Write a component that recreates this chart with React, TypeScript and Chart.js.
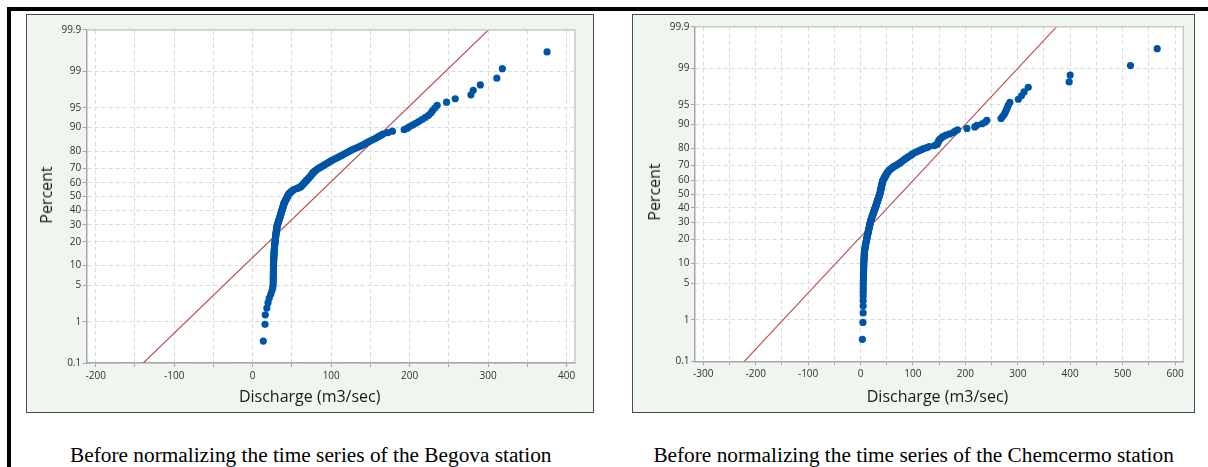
import React, { useEffect, useRef } from 'react';
import { Chart, registerables } from 'chart.js';

Chart.register(...registerables);

// ---------- data ----------
const percentTicks = [0.1, 1, 5, 10, 20, 30, 40, 50, 60, 70, 80, 90, 95, 99, 99.9];
const percentTickLabels = ['0.1', '1', '5', '10', '20', '30', '40', '50', '60', '70', '80', '90', '95', '99', '99.9'];

const begovaXTicks = [-200, -150, -100, -50, 0, 50, 100, 150, 200, 250, 300, 350, 400];
const chemcermoXTicks = [-300, -250, -200, -150, -100, -50, 0, 50, 100, 150, 200, 250, 300, 350, 400, 450, 500, 550, 600];

const begovaXRange = [-211.5, 410.6];
const chemcermoXRange = [-315.8, 615.8];

// fitted normal line: discharge at 0.1 % and 99.9 %
const fitPercent = [0.1, 99.9];
const begovaFitX = [-139.4, 300.1];
const chemcermoFitX = [-221.7, 374.3];

// monthly discharge (m3/sec), sorted
const begovaDischarge = [
  13.5, 15.7, 16, 18, 19.5, 21, 23, 24.5, 25.5, 26,
  26.1, 26.1, 26.2, 26.2, 26.3, 26.3, 26.4, 26.4, 26.5, 26.5,
  26.6, 26.6, 26.7, 26.8, 26.9, 27.0, 27.1, 27.2, 27.3, 27.4,
  27.5, 27.6, 27.7, 27.8, 27.9, 28.0, 28.2, 28.4, 28.5, 28.6,
  28.8, 28.9, 29.0, 29.2, 29.3, 29.5, 29.6, 29.8, 29.9, 30.1,
  30.2, 30.4, 30.5, 30.7, 30.8, 31.0, 31.3, 31.6, 31.9, 32.2,
  32.5, 32.8, 33.2, 33.5, 33.8, 34.1, 34.4, 34.7, 35.0, 35.3,
  35.6, 35.9, 36.2, 36.4, 36.7, 37.0, 37.3, 37.5, 37.8, 38.1,
  38.4, 38.7, 38.9, 39.2, 39.5, 39.7, 40.0, 40.5, 40.9, 41.4,
  41.8, 42.3, 42.8, 43.2, 43.7, 44.2, 44.6, 45.1, 45.6, 46.0,
  46.5, 47.6, 48.7, 49.8, 50.9, 52, 54.2, 56.5, 58.7, 61,
  61.8, 62.6, 63.4, 64.3, 65.1, 66, 66.8, 67.7, 68.5, 69.4,
  70.2, 71.1, 71.9, 72.8, 73.6, 74.4, 75.2, 76, 76.5, 77.5,
  78.8, 80, 81.3, 82.6, 84, 85.8, 87.6, 89.4, 91.2, 93,
  94.8, 96.6, 98.4, 100.2, 102.3, 104.6, 106.9, 109.2, 111.5, 113.8,
  116, 118.3, 120.6, 122.9, 125, 128, 131, 134, 137, 140,
  143, 145, 148, 151, 154, 157, 160, 163, 166, 172,
  178, 193, 197, 200, 204, 208, 212, 216, 220, 224,
  227, 229, 232, 235, 247, 258, 278, 281, 290, 311,
  318, 375,
];

const chemcermoDischarge = [
  3.5, 4.5, 5.0, 5.0, 5.0, 5.1, 5.1, 5.2, 5.2, 5.3,
  5.4, 5.5, 5.6, 5.7, 5.8, 5.9, 6.0, 6.1, 6.3, 6.4,
  6.5, 6.7, 6.8, 7.0, 7.1, 7.3, 7.4, 7.6, 7.8, 8.2,
  8.6, 9.0, 9.4, 9.7, 10.1, 10.5, 10.9, 11.3, 11.7, 12.1,
  12.4, 12.8, 13.2, 13.6, 14.0, 14.4, 14.8, 15.1, 15.5, 15.9,
  16.2, 16.6, 17.0, 17.3, 17.7, 18.1, 18.4, 18.8, 19.2, 19.6,
  20.0, 20.5, 21.0, 21.5, 22.0, 22.5, 23.0, 23.5, 24.0, 24.5,
  25.0, 25.5, 26.0, 26.5, 27.0, 27.5, 28.0, 28.5, 29.0, 29.4,
  29.9, 30.3, 30.8, 31.2, 31.7, 32.1, 32.6, 33.0, 33.5, 33.9,
  34.4, 34.8, 35.3, 35.7, 36.2, 36.6, 37.0, 37.3, 37.6, 37.9,
  38.2, 38.5, 38.8, 39.1, 39.4, 39.7, 40.0, 40.3, 40.6, 40.9,
  41.2, 41.5, 41.8, 42.1, 42.5, 43.0, 43.8, 44.6, 45.4, 46.2,
  47.0, 47.8, 48.6, 49.4, 50.3, 51.2, 52.2, 53.3, 54.5, 56,
  58, 60, 62, 64, 67, 70, 72, 75, 77, 79,
  81, 83, 85, 88, 90, 93, 96, 98, 100, 104,
  108, 112, 116, 120, 126, 131, 141, 146, 147, 148,
  149, 150, 152, 155, 158, 163, 170, 177, 180, 185,
  203, 218, 222, 232, 238, 241, 268, 271, 274, 276,
  278, 280, 282, 285, 301, 307, 312, 320, 398, 400,
  515, 566,
];

const captionBegova = 'Before normalizing the time series of the Begova station';
const captionChemcermo = 'Before normalizing the time series of the Chemcermo station';

// ---------- helpers ----------
function probit(p: number): number {
  const a = [-3.969683028665376e1, 2.209460984245205e2, -2.759285104469687e2, 1.38357751867269e2, -3.066479806614716e1, 2.506628277459239];
  const b = [-5.447609879822406e1, 1.615858368580409e2, -1.556989798598866e2, 6.680131188771972e1, -1.328068155288572e1];
  const c = [-7.784894002430293e-3, -3.223964580411365e-1, -2.400758277161838, -2.549732539343734, 4.374664141464968, 2.938163982698783];
  const d = [7.784695709041462e-3, 3.224671290700398e-1, 2.445134137142996, 3.754408661907416];
  const pl = 0.02425;
  if (p < pl) {
    const q = Math.sqrt(-2 * Math.log(p));
    return (((((c[0] * q + c[1]) * q + c[2]) * q + c[3]) * q + c[4]) * q + c[5]) / ((((d[0] * q + d[1]) * q + d[2]) * q + d[3]) * q + 1);
  }
  if (p <= 1 - pl) {
    const q = p - 0.5;
    const r = q * q;
    return ((((((a[0] * r + a[1]) * r + a[2]) * r + a[3]) * r + a[4]) * r + a[5]) * q) / (((((b[0] * r + b[1]) * r + b[2]) * r + b[3]) * r + b[4]) * r + 1);
  }
  const q = Math.sqrt(-2 * Math.log(1 - p));
  return -(((((c[0] * q + c[1]) * q + c[2]) * q + c[3]) * q + c[4]) * q + c[5]) / ((((d[0] * q + d[1]) * q + d[2]) * q + d[3]) * q + 1);
}

const plotFrame = {
  id: 'plotFrame',
  beforeDraw(chart: any) {
    const { ctx, chartArea: a } = chart;
    ctx.save();
    ctx.fillStyle = '#ffffff';
    ctx.fillRect(a.left, a.top, a.right - a.left, a.bottom - a.top);
    ctx.restore();
  },
  afterDraw(chart: any) {
    const { ctx, chartArea: a } = chart;
    ctx.save();
    ctx.strokeStyle = '#c9c9c9';
    ctx.lineWidth = 1.5;
    ctx.beginPath();
    ctx.moveTo(a.left, a.top);
    ctx.lineTo(a.right, a.top);
    ctx.lineTo(a.right, a.bottom);
    ctx.stroke();
    ctx.restore();
  },
};

const TICK_FONT = { family: "'Open Sans', 'Noto Sans', sans-serif", size: 10 };
const TICK_COLOR = '#303030';

type PlotProps = {
  values: number[];
  xRange: number[];
  xTicks: number[];
  fitX: number[];
  left: number;
  top: number;
  width: number;
  height: number;
  padTop: number;
  padRight: number;
  yAxisWidth: number;
  xAxisHeight: number;
};

function ProbabilityPlot(props: PlotProps) {
  const ref = useRef<HTMLCanvasElement>(null);
  useEffect(() => {
    const { values, xRange, xTicks, fitX, padTop, padRight, yAxisWidth, xAxisHeight } = props;
    const sorted = [...values].sort((u, v) => u - v);
    const n = sorted.length;
    const points = sorted.map((v, i) => ({ x: v, y: probit((i + 1 - 0.3) / (n + 0.4)) }));
    const fit = fitX.map((x, k) => ({ x, y: probit(fitPercent[k] / 100) }));
    const zMax = probit(0.999);
    const chart = new Chart(ref.current as HTMLCanvasElement, {
      type: 'scatter',
      data: {
        datasets: [
          {
            data: points,
            backgroundColor: '#0054a6',
            borderWidth: 0,
            pointRadius: 3.6,
            pointHoverRadius: 3.6,
          } as any,
          {
            type: 'line',
            data: fit,
            borderColor: '#b54c4c',
            borderWidth: 1.1,
            pointRadius: 0,
            showLine: true,
            fill: false,
          } as any,
        ],
      },
      options: {
        responsive: false,
        animation: false,
        events: [],
        layout: { padding: { left: 0, top: padTop, right: padRight, bottom: 0 } },
        plugins: { legend: { display: false }, tooltip: { enabled: false } },
        scales: {
          x: {
            type: 'linear',
            min: xRange[0],
            max: xRange[1],
            afterFit: (s: any) => {
              s.height = xAxisHeight;
            },
            afterBuildTicks: (s: any) => {
              s.ticks = xTicks.map((v) => ({ value: v }));
            },
            ticks: {
              autoSkip: false,
              maxRotation: 0,
              padding: 3,
              font: TICK_FONT,
              color: TICK_COLOR,
              callback: (v: any) => (Number(v) % 100 === 0 ? String(v) : ''),
            },
            grid: { color: '#dadada', lineWidth: 1, tickLength: 4, tickColor: '#a6a6a6', tickWidth: 1 },
            border: { display: true, color: '#a6a6a6', width: 1.5, dash: [4, 3] },
          },
          y: {
            type: 'linear',
            min: -zMax,
            max: zMax,
            afterFit: (s: any) => {
              s.width = yAxisWidth;
            },
            afterBuildTicks: (s: any) => {
              s.ticks = percentTicks.map((p) => ({ value: probit(p / 100) }));
            },
            ticks: {
              autoSkip: false,
              padding: 1.5,
              font: TICK_FONT,
              color: TICK_COLOR,
              callback: (_v: any, i: number) => percentTickLabels[i],
            },
            grid: { color: '#dadada', lineWidth: 1, tickLength: 4, tickColor: '#a6a6a6', tickWidth: 1 },
            border: { display: true, color: '#a6a6a6', width: 1.5, dash: [4, 3] },
          },
        },
      } as any,
      plugins: [plotFrame],
    });
    return () => chart.destroy();
  }, []);
  return (
    <>
      <div
        style={{
          position: 'absolute',
          left: props.left,
          top: props.top,
          width: props.width,
          height: props.height,
          boxSizing: 'border-box',
          background: '#eff6ef',
          border: '1px solid #4a4a4a',
        }}
      />
      <canvas
        ref={ref}
        width={props.width}
        height={props.height}
        style={{ position: 'absolute', left: props.left, top: props.top, display: 'block' }}
      />
    </>
  );
}

const titleFont = "'Open Sans', 'Noto Sans', sans-serif";

function XTitle({ cx, top }: { cx: number; top: number }) {
  return (
    <div
      style={{
        position: 'absolute',
        left: cx,
        top,
        transform: 'translateX(-50%)',
        whiteSpace: 'nowrap',
        font: `16px ${titleFont}`,
        lineHeight: 1,
        color: '#1a1a1a',
      }}
    >
      Discharge (m3/sec)
    </div>
  );
}

function YTitle({ cx, cy }: { cx: number; cy: number }) {
  return (
    <div
      style={{
        position: 'absolute',
        left: cx,
        top: cy,
        transform: 'translate(-50%, -50%) rotate(-90deg)',
        whiteSpace: 'nowrap',
        font: `16px ${titleFont}`,
        lineHeight: 1,
        color: '#1a1a1a',
      }}
    >
      Percent
    </div>
  );
}

function Caption({ cx, text }: { cx: number; text: string }) {
  return (
    <div
      style={{
        position: 'absolute',
        left: cx,
        top: 445.2,
        transform: 'translateX(-50%)',
        whiteSpace: 'nowrap',
        font: "21.3px 'Liberation Serif', 'Times New Roman', serif",
        lineHeight: 1,
        color: '#000',
      }}
    >
      {text}
    </div>
  );
}

export default function App() {
  return (
    <div style={{ position: 'relative', width: 1208, height: 467, overflow: 'hidden', background: '#fff' }}>
      <style>{'html,body{margin:0;padding:0;overflow:hidden;}'}</style>
      <div style={{ position: 'absolute', left: 7, top: 7, width: 1201, height: 4, background: '#000' }} />
      <div style={{ position: 'absolute', left: 7, top: 7, width: 4, height: 460, background: '#000' }} />

      <ProbabilityPlot
        values={begovaDischarge}
        xRange={begovaXRange}
        xTicks={begovaXTicks}
        fitX={begovaFitX}
        left={26}
        top={14}
        width={568}
        height={399}
        padTop={16}
        padRight={19}
        yAxisWidth={60.7}
        xAxisHeight={50}
      />
      <YTitle cx={45.8} cy={195} />
      <XTitle cx={309.7} top={388.1} />

      <ProbabilityPlot
        values={chemcermoDischarge}
        xRange={chemcermoXRange}
        xTicks={chemcermoXTicks}
        fitX={chemcermoFitX}
        left={632}
        top={14}
        width={563}
        height={399}
        padTop={12.7}
        padRight={11.7}
        yAxisWidth={63}
        xAxisHeight={51.7}
      />
      <YTitle cx={654.3} cy={192} />
      <XTitle cx={937.5} top={388} />

      <Caption cx={310.8} text={captionBegova} />
      <Caption cx={913.6} text={captionChemcermo} />
    </div>
  );
}
